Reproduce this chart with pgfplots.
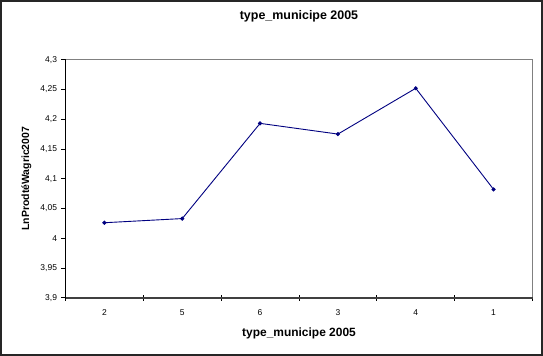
\documentclass[border=0pt]{standalone}
\usepackage{fontspec}
\setmainfont{Liberation Sans}
\usepackage{pgfplots}
\pgfplotsset{compat=1.18}
\definecolor{navyline}{RGB}{0,0,128}
\begin{document}
\begin{tikzpicture}
\useasboundingbox (-65.5bp,-58.3bp) rectangle (477.5bp,297.7bp);
\draw[line width=1.5bp, black!85] (-64.7bp,-57.5bp) rectangle (476.7bp,296.9bp);
\begin{axis}[
  at={(0,0)}, anchor=south west,
  scale only axis, width=467bp, height=238bp,
  clip=false,
  xmin=0.5, xmax=6.5, ymin=3.9, ymax=4.3,
  xtick={1,2,3,4,5,6}, xticklabels={2,5,6,3,4,1},
  minor xtick={0.5,1.5,2.5,3.5,4.5,5.5,6.5},
  ytick={3.9,3.95,4,4.05,4.1,4.15,4.2,4.25,4.3},
  axis line style={draw=none},
  xtick pos=bottom, ytick pos=left,
  tick align=outside,
  major x tick style={draw=none},
  minor tick length=6bp,
  minor x tick style={black, line width=0.8bp, yshift=3bp},
  major tick length=4bp,
  y tick style={black, line width=0.8bp},
  /pgf/number format/assume math mode=true,
  /pgf/number format/use comma,
  /pgf/number format/1000 sep={},
  tick label style={font=\fontsize{8.5}{9}\selectfont},
  xticklabel style={yshift=-4.5bp},
  yticklabel style={xshift=-1bp},
  title={type\_municipe 2005},
  title style={font=\fontsize{12.5}{14}\selectfont\bfseries, at={(0.5,1)}, anchor=center, yshift=37.5bp},
  xlabel={type\_municipe 2005},
  xlabel style={font=\fontsize{12}{14}\selectfont\bfseries, at={(0.5,0)}, anchor=center, yshift=-35.5bp},
  ylabel={LnProdtéWagric2007},
  ylabel style={font=\fontsize{10.5}{12}\selectfont\bfseries, at={(0,0.5)}, anchor=center, rotate=0, yshift=39bp},
]
\addplot[color=navyline, line width=0.9bp, mark=*, mark size=1.6bp] coordinates {
  (1,4.026) (2,4.033) (3,4.193) (4,4.175) (5,4.252) (6,4.082)
};
\draw[gray, line width=0.8bp] (rel axis cs:0,1) -- (rel axis cs:1,1) -- (rel axis cs:1,0);
\draw[black!75, line width=1.8bp] (rel axis cs:0,0) -- (rel axis cs:1,0);
\draw[black, line width=0.9bp] (rel axis cs:0,0) -- (rel axis cs:0,1);
\end{axis}
\end{tikzpicture}
\end{document}
